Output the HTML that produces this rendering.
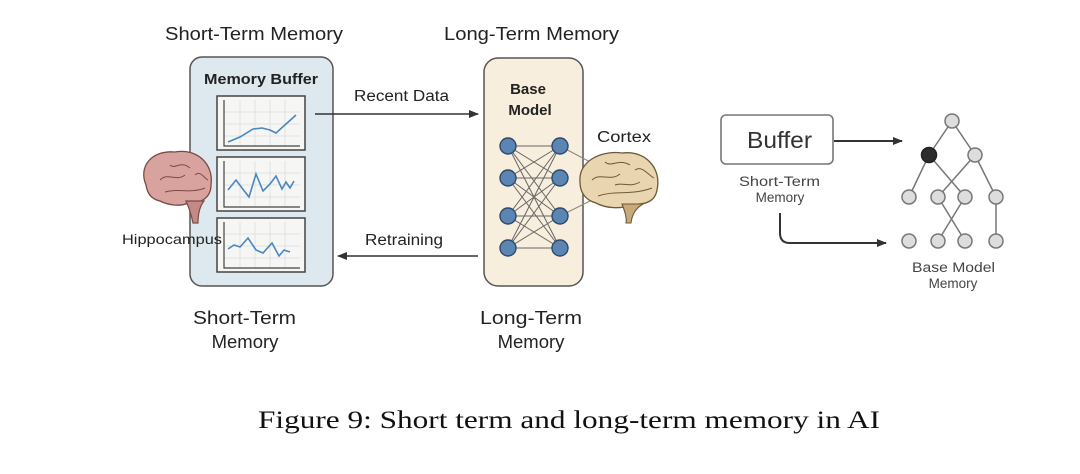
<!DOCTYPE html>
<html><head><meta charset="utf-8"><style>
html,body{margin:0;padding:0;background:#fff;}
svg{display:block;font-family:"Liberation Sans","DejaVu Sans",sans-serif;}
</style></head><body>
<svg width="1080" height="474" viewBox="0 0 1080 474">
<defs>
<marker id="ar" markerWidth="10" markerHeight="8" refX="9" refY="4" orient="auto" markerUnits="userSpaceOnUse"><path d="M0,0 L10,4 L0,8 Z" fill="#333"/></marker>
</defs>
<text x="165" y="40" font-size="18" textLength="178" lengthAdjust="spacingAndGlyphs" fill="#222">Short-Term Memory</text>
<text x="444" y="40" font-size="18" textLength="175" lengthAdjust="spacingAndGlyphs" fill="#222">Long-Term Memory</text>
<rect x="190" y="57" width="143" height="229" rx="12" fill="#dde9ee" stroke="#555" stroke-width="1.5"/>
<text x="204" y="84" font-size="15" font-weight="bold" textLength="114" lengthAdjust="spacingAndGlyphs" fill="#222">Memory Buffer</text>
<g stroke="#444" stroke-width="1.5" fill="#f6f6f4">
<rect x="217" y="96" width="88" height="54"/>
<rect x="217" y="157" width="88" height="54"/>
<rect x="217" y="218" width="88" height="54"/>
</g>
<g stroke="#ddd" stroke-width="0.8">
<path d="M224,112H300M224,124H300M224,136H300M240,100V146M255,100V146M270,100V146M285,100V146"/>
<path d="M224,173H300M224,185H300M224,197H300M240,161V207M255,161V207M270,161V207M285,161V207"/>
<path d="M224,234H300M224,246H300M224,258H300M240,222V268M255,222V268M270,222V268M285,222V268"/>
</g>
<g stroke="#444" stroke-width="1.2" fill="none">
<path d="M224,100V146H300M224,161V207H300M224,222V268H300"/>
</g>
<g stroke="#4a87c0" stroke-width="1.6" fill="none">
<path d="M228,142L240,137L253,129L262,128L270,130L276,133L286,124L296,115"/>
<path d="M228,190L236,180L242,188L249,197L256,174L263,191L270,184L276,176L282,189L286,182L290,188L294,181"/>
<path d="M228,249L234,245L240,247L248,238L256,250L263,253L272,243L279,256L284,250L290,252"/>
</g>
<g>
<path d="M146,185 C138,166 152,150 175,152 C197,148 214,164 211,185 C211,198 200,204 188,203 C180,207 168,205 160,201 C150,199 147,192 146,185 Z" fill="#d8a39e" stroke="#7a4a48" stroke-width="1.3"/>
<path d="M186,201 C190,210 192,218 193,223 L198,223 C198,214 200,206 204,201 Z" fill="#c48a85" stroke="#7a4a48" stroke-width="1.2"/>
<path d="M160,180 C168,172 176,182 185,175 M170,165 C175,170 180,160 190,168 M165,192 C178,188 190,194 205,188 M195,175 C200,170 204,178 208,180" fill="none" stroke="#7a4a48" stroke-width="1"/>
</g>
<text x="122" y="244" font-size="14" textLength="100" lengthAdjust="spacingAndGlyphs" fill="#222">Hippocampus</text>
<line x1="315" y1="114" x2="478" y2="114" stroke="#333" stroke-width="1.5" marker-end="url(#ar)"/>
<text x="354" y="101" font-size="15.5" textLength="95" lengthAdjust="spacingAndGlyphs" fill="#222">Recent Data</text>
<line x1="478" y1="256" x2="338" y2="256" stroke="#333" stroke-width="1.5" marker-end="url(#ar)"/>
<text x="365" y="245" font-size="15.5" textLength="78" lengthAdjust="spacingAndGlyphs" fill="#222">Retraining</text>
<rect x="484" y="58" width="99" height="228" rx="14" fill="#f8eedd" stroke="#555" stroke-width="1.5"/>
<text x="528" y="94" font-size="15" font-weight="bold" text-anchor="middle" fill="#222">Base</text>
<text x="530" y="115" font-size="15" font-weight="bold" text-anchor="middle" fill="#222">Model</text>
<g stroke="#666" stroke-width="1">
<path d="M508,146L560,146M508,178L560,178M508,216L560,216M508,248L560,248"/>
<path d="M508,146L560,178M508,146L560,216M508,146L560,248M508,178L560,146M508,178L560,216M508,178L560,248M508,216L560,146M508,216L560,178M508,216L560,248M508,248L560,146M508,248L560,178M508,248L560,216"/>
<path d="M560,146L592,163M560,216L592,200" stroke="#888"/>
</g>
<g fill="#5b86b3" stroke="#2e4a6a" stroke-width="1.4">
<circle cx="508" cy="146" r="8"/><circle cx="508" cy="178" r="8"/><circle cx="508" cy="216" r="8"/><circle cx="508" cy="248" r="8"/>
<circle cx="560" cy="146" r="8"/><circle cx="560" cy="178" r="8"/><circle cx="560" cy="216" r="8"/><circle cx="560" cy="248" r="8"/>
</g>
<g>
<path d="M580,182 C578,162 600,150 622,153 C645,150 662,168 657,190 C655,202 645,205 632,204 C622,210 605,208 596,203 C585,200 580,192 580,182 Z" fill="#e9d6b0" stroke="#6b5a3a" stroke-width="1.3"/>
<path d="M622,204 C625,212 627,218 626,223 L631,223 C632,214 636,208 643,204 Z" fill="#c9a87a" stroke="#6b5a3a" stroke-width="1.1"/>
<path d="M592,180 C600,172 610,182 620,174 M605,162 C612,168 618,158 630,165 M598,196 C615,190 630,196 652,188 M635,170 C642,165 648,175 654,178 M615,185 C622,182 630,188 640,182" fill="none" stroke="#6b5a3a" stroke-width="1"/>
</g>
<text x="597" y="142" font-size="15.5" textLength="54" lengthAdjust="spacingAndGlyphs" fill="#222">Cortex</text>
<text x="193" y="324" font-size="18.5" textLength="103" lengthAdjust="spacingAndGlyphs" fill="#222">Short-Term</text>
<text x="245" y="348" font-size="18.5" text-anchor="middle" fill="#222">Memory</text>
<text x="480" y="324" font-size="18.5" textLength="102" lengthAdjust="spacingAndGlyphs" fill="#222">Long-Term</text>
<text x="531" y="348" font-size="18.5" text-anchor="middle" fill="#222">Memory</text>
<rect x="721" y="115" width="112" height="49" rx="5" fill="#fff" stroke="#777" stroke-width="1.6"/>
<text x="747" y="148" font-size="23" textLength="65" lengthAdjust="spacingAndGlyphs" fill="#333">Buffer</text>
<line x1="834" y1="141" x2="902" y2="141" stroke="#333" stroke-width="2" marker-end="url(#ar)"/>
<text x="739" y="186" font-size="13.5" textLength="81" lengthAdjust="spacingAndGlyphs" fill="#444">Short-Term</text>
<text x="780" y="202" font-size="13.5" text-anchor="middle" fill="#444">Memory</text>
<path d="M780,213 V233 Q780,243 790,243 H886" fill="none" stroke="#333" stroke-width="2" marker-end="url(#ar)"/>
<g stroke="#777" stroke-width="1.5">
<path d="M952,121L929,155M952,121L975,155M929,155L909,197M929,155L965,197M975,155L938,197M975,155L996,197M938,197L965,241M965,197L938,241M996,197L996,241"/>
</g>
<g fill="#ddd" stroke="#777" stroke-width="1.5">
<circle cx="952" cy="121" r="7"/><circle cx="975" cy="155" r="7"/>
<circle cx="909" cy="197" r="7"/><circle cx="938" cy="197" r="7"/><circle cx="965" cy="197" r="7"/><circle cx="996" cy="197" r="7"/>
<circle cx="909" cy="241" r="7"/><circle cx="938" cy="241" r="7"/><circle cx="965" cy="241" r="7"/><circle cx="996" cy="241" r="7"/>
</g>
<circle cx="929" cy="155" r="7.5" fill="#2d2d2d" stroke="#222" stroke-width="1.5"/>
<text x="912" y="272" font-size="13.5" textLength="83" lengthAdjust="spacingAndGlyphs" fill="#444">Base Model</text>
<text x="953" y="288" font-size="13.5" text-anchor="middle" fill="#444">Memory</text>
<text x="258" y="428" font-size="25" textLength="622" lengthAdjust="spacingAndGlyphs" fill="#111" font-family="Liberation Serif, serif">Figure 9: Short term and long-term memory in AI</text>
</svg>
</body></html>
